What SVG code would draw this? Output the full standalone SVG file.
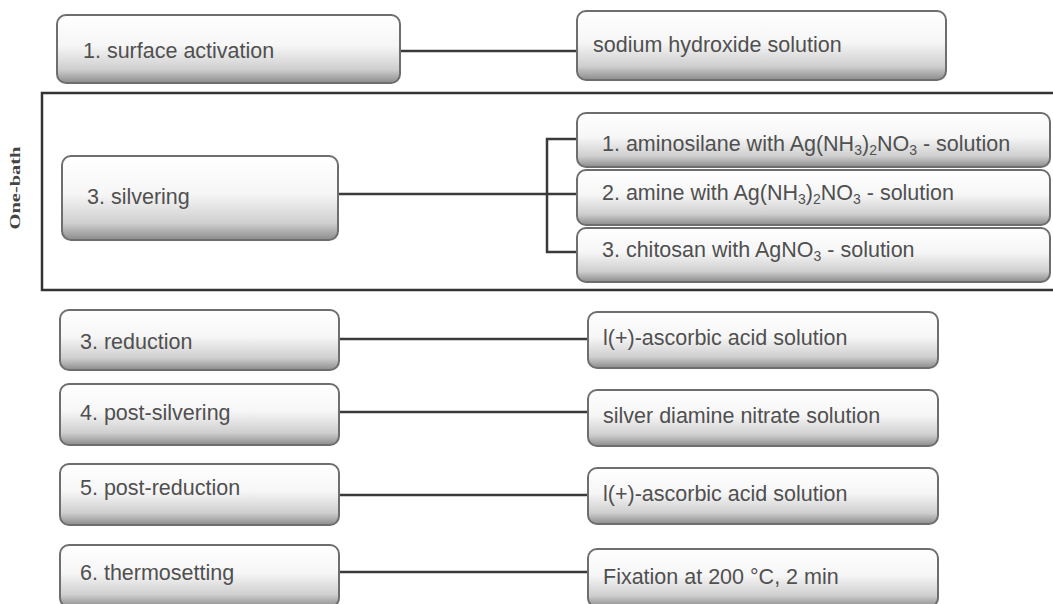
<svg xmlns="http://www.w3.org/2000/svg" width="1053" height="604" viewBox="0 0 1053 604">
<defs>
<linearGradient id="g" x1="0" y1="0" x2="0" y2="1">
<stop offset="0" stop-color="#ffffff"/>
<stop offset="0.45" stop-color="#f6f6f6"/>
<stop offset="0.8" stop-color="#cfcfcf"/>
<stop offset="1" stop-color="#8c8c8c"/>
</linearGradient>
</defs>
<style>
.box{fill:url(#g);stroke:#6e6e6e;stroke-width:2}
.t{font-family:"Liberation Sans",Arial,sans-serif;font-size:21.5px;fill:#505050}
.c{fill:none;stroke:#3a3a3a;stroke-width:2.5}
.sub{font-size:14px}
</style>
<rect width="1053" height="604" fill="#ffffff"/>
<g id="frame">
<rect x="42" y="93" width="1030" height="197" fill="none" stroke="#333" stroke-width="2.5"/>
<text transform="translate(20,188) rotate(-90)" text-anchor="middle" textLength="83" lengthAdjust="spacingAndGlyphs" style="font-family:'Liberation Serif',serif;font-size:15px;font-weight:bold;fill:#444">One-bath</text>
</g>
<g id="connectors">
<line class="c" x1="400" y1="51" x2="578" y2="51"/>
<line class="c" x1="338" y1="194" x2="578" y2="194"/>
<polyline class="c" points="578,139 547,139 547,252 578,252"/>
<line class="c" x1="339" y1="339" x2="588" y2="339"/>
<line class="c" x1="339" y1="412" x2="588" y2="412"/>
<line class="c" x1="339" y1="495" x2="588" y2="495"/>
<line class="c" x1="339" y1="572" x2="588" y2="572"/>
</g>
<g id="n-surface"><rect class="box" x="57" y="15" width="343" height="68" rx="9"/><text class="t" x="83" y="58">1. surface activation</text></g>
<g id="n-naoh"><rect class="box" x="577" y="11" width="369" height="69" rx="9"/><text class="t" x="593" y="52">sodium hydroxide solution</text></g>
<g id="n-silvering"><rect class="box" x="62" y="156" width="276" height="84" rx="9"/><text class="t" x="87" y="204">3. silvering</text></g>
<g id="n-amino"><rect class="box" x="577" y="113" width="473" height="54" rx="9"/><text class="t" x="602" y="151">1. aminosilane with Ag(NH<tspan class="sub" dy="4">3</tspan><tspan dy="-4">)</tspan><tspan class="sub" dy="4">2</tspan><tspan dy="-4">NO</tspan><tspan class="sub" dy="4">3</tspan><tspan dy="-4"> - solution</tspan></text></g>
<g id="n-amine"><rect class="box" x="577" y="170" width="473" height="55" rx="9"/><text class="t" x="602" y="200">2. amine with Ag(NH<tspan class="sub" dy="4">3</tspan><tspan dy="-4">)</tspan><tspan class="sub" dy="4">2</tspan><tspan dy="-4">NO</tspan><tspan class="sub" dy="4">3</tspan><tspan dy="-4"> - solution</tspan></text></g>
<g id="n-chitosan"><rect class="box" x="577" y="228" width="473" height="54" rx="9"/><text class="t" x="602" y="257">3. chitosan with AgNO<tspan class="sub" dy="4">3</tspan><tspan dy="-4"> - solution</tspan></text></g>
<g id="n-reduction"><rect class="box" x="60" y="310" width="279" height="60" rx="9"/><text class="t" x="80" y="349">3. reduction</text></g>
<g id="n-asc1"><rect class="box" x="588" y="312" width="350" height="56" rx="9"/><text class="t" x="603" y="345">l(+)-ascorbic acid solution</text></g>
<g id="n-postsilv"><rect class="box" x="60" y="384" width="279" height="61" rx="9"/><text class="t" x="80" y="420">4. post-silvering</text></g>
<g id="n-diamine"><rect class="box" x="588" y="390" width="350" height="56" rx="9"/><text class="t" x="603" y="423">silver diamine nitrate solution</text></g>
<g id="n-postred"><rect class="box" x="60" y="464" width="279" height="61" rx="9"/><text class="t" x="80" y="495">5. post-reduction</text></g>
<g id="n-asc2"><rect class="box" x="588" y="468" width="350" height="56" rx="9"/><text class="t" x="603" y="501">l(+)-ascorbic acid solution</text></g>
<g id="n-thermo"><rect class="box" x="60" y="545" width="279" height="62" rx="9"/><text class="t" x="80" y="580">6. thermosetting</text></g>
<g id="n-fix"><rect class="box" x="588" y="549" width="350" height="58" rx="9"/><text class="t" x="603" y="584">Fixation at 200 °C, 2 min</text></g>
</svg>
